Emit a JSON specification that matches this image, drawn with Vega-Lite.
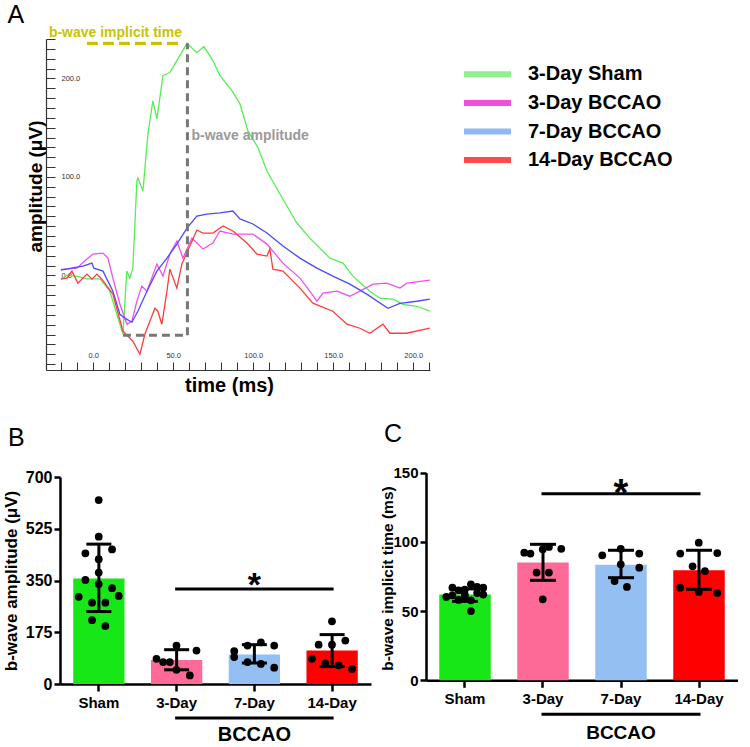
{
  "$schema": "https://vega.github.io/schema/vega-lite/v6.json",
  "background": "white",
  "padding": {"left": 1, "top": 2, "right": 0, "bottom": 0},
  "config": {
    "view": {"stroke": null},
    "font": "Liberation Sans",
    "axis": {"grid": false},
    "title": {"font": "Liberation Sans"}
  },
  "resolve": {"scale": {"color": "independent"}},
  "datasets": {
    "traces": [
      {"series": "3-Day Sham", "t": -20.2, "v": -3.8}, {"series": "3-Day Sham", "t": -16.4, "v": 0.3}, {"series": "3-Day Sham", "t": -10, "v": -1}, {"series": "3-Day Sham", "t": -3.9, "v": -3.5}, {"series": "3-Day Sham", "t": 4.2, "v": -3.5}, {"series": "3-Day Sham", "t": 10.4, "v": -16}, {"series": "3-Day Sham", "t": 14.8, "v": -39.4}, {"series": "3-Day Sham", "t": 18.6, "v": -59.7}, {"series": "3-Day Sham", "t": 21, "v": 4.4}, {"series": "3-Day Sham", "t": 22.9, "v": -2.7}, {"series": "3-Day Sham", "t": 24.8, "v": 7.4}, {"series": "3-Day Sham", "t": 27.3, "v": 95.9}, {"series": "3-Day Sham", "t": 27.9, "v": 99}, {"series": "3-Day Sham", "t": 31.1, "v": 85.8}, {"series": "3-Day Sham", "t": 34.2, "v": 143.7}, {"series": "3-Day Sham", "t": 37.3, "v": 177.3}, {"series": "3-Day Sham", "t": 39.8, "v": 158.9}, {"series": "3-Day Sham", "t": 43.6, "v": 202.8}, {"series": "3-Day Sham", "t": 47.9, "v": 205.9}, {"series": "3-Day Sham", "t": 52.3, "v": 218.1}, {"series": "3-Day Sham", "t": 58.6, "v": 235.6}, {"series": "3-Day Sham", "t": 64.8, "v": 226.1}, {"series": "3-Day Sham", "t": 69.2, "v": 232.3}, {"series": "3-Day Sham", "t": 74.8, "v": 218.1}, {"series": "3-Day Sham", "t": 79.2, "v": 202.8}, {"series": "3-Day Sham", "t": 86.7, "v": 187.5}, {"series": "3-Day Sham", "t": 91.7, "v": 174.2}, {"series": "3-Day Sham", "t": 96.7, "v": 146.7}, {"series": "3-Day Sham", "t": 103.1, "v": 129.4}, {"series": "3-Day Sham", "t": 108.6, "v": 106}, {"series": "3-Day Sham", "t": 116.7, "v": 82.7}, {"series": "3-Day Sham", "t": 122.9, "v": 65.4}, {"series": "3-Day Sham", "t": 127.3, "v": 53.2}, {"series": "3-Day Sham", "t": 135.4, "v": 37.9}, {"series": "3-Day Sham", "t": 147.9, "v": 17.6}, {"series": "3-Day Sham", "t": 156.1, "v": 12.5}, {"series": "3-Day Sham", "t": 162.3, "v": -0.7}, {"series": "3-Day Sham", "t": 172.9, "v": -16}, {"series": "3-Day Sham", "t": 179.2, "v": -23.1}, {"series": "3-Day Sham", "t": 187.3, "v": -24.1}, {"series": "3-Day Sham", "t": 193.6, "v": -29.3}, {"series": "3-Day Sham", "t": 202.3, "v": -31.3}, {"series": "3-Day Sham", "t": 210.4, "v": -36.3},
      {"series": "3-Day BCCAO", "t": -20.2, "v": 6.1}, {"series": "3-Day BCCAO", "t": -10.2, "v": 7.4}, {"series": "3-Day BCCAO", "t": -3.9, "v": 16.6}, {"series": "3-Day BCCAO", "t": -0.2, "v": 21.7}, {"series": "3-Day BCCAO", "t": 6.1, "v": 22.7}, {"series": "3-Day BCCAO", "t": 9.2, "v": 17.6}, {"series": "3-Day BCCAO", "t": 12.3, "v": -2.7}, {"series": "3-Day BCCAO", "t": 16.7, "v": -29.2}, {"series": "3-Day BCCAO", "t": 21.1, "v": -49.5}, {"series": "3-Day BCCAO", "t": 24.2, "v": -46.5}, {"series": "3-Day BCCAO", "t": 27.3, "v": -26.1}, {"series": "3-Day BCCAO", "t": 30.4, "v": -10.9}, {"series": "3-Day BCCAO", "t": 33.6, "v": -16}, {"series": "3-Day BCCAO", "t": 39.8, "v": 11.5}, {"series": "3-Day BCCAO", "t": 43.6, "v": -0.7}, {"series": "3-Day BCCAO", "t": 47.9, "v": 21.7}, {"series": "3-Day BCCAO", "t": 52.3, "v": 34.9}, {"series": "3-Day BCCAO", "t": 56.1, "v": 17.6}, {"series": "3-Day BCCAO", "t": 61.7, "v": 37.9}, {"series": "3-Day BCCAO", "t": 68.6, "v": 26.8}, {"series": "3-Day BCCAO", "t": 74.8, "v": 32.9}, {"series": "3-Day BCCAO", "t": 79.2, "v": 45.1}, {"series": "3-Day BCCAO", "t": 87.3, "v": 42}, {"series": "3-Day BCCAO", "t": 99.8, "v": 42}, {"series": "3-Day BCCAO", "t": 108.6, "v": 31.8}, {"series": "3-Day BCCAO", "t": 118.6, "v": 12.5}, {"series": "3-Day BCCAO", "t": 129.2, "v": -2.7}, {"series": "3-Day BCCAO", "t": 135.4, "v": -16}, {"series": "3-Day BCCAO", "t": 139.8, "v": -26.1}, {"series": "3-Day BCCAO", "t": 143.6, "v": -18}, {"series": "3-Day BCCAO", "t": 152.3, "v": -16}, {"series": "3-Day BCCAO", "t": 160.4, "v": -21.1}, {"series": "3-Day BCCAO", "t": 166.7, "v": -16}, {"series": "3-Day BCCAO", "t": 174.8, "v": -8.8}, {"series": "3-Day BCCAO", "t": 183.6, "v": -7.8}, {"series": "3-Day BCCAO", "t": 191.7, "v": -12.9}, {"series": "3-Day BCCAO", "t": 196.1, "v": -7.8}, {"series": "3-Day BCCAO", "t": 210.4, "v": -4.8},
      {"series": "7-Day BCCAO", "t": -20.2, "v": 5.4}, {"series": "7-Day BCCAO", "t": -12.6, "v": 7.6}, {"series": "7-Day BCCAO", "t": -6.4, "v": 9.5}, {"series": "7-Day BCCAO", "t": -0.8, "v": 12.5}, {"series": "7-Day BCCAO", "t": 0.4, "v": 7.4}, {"series": "7-Day BCCAO", "t": 6.1, "v": 4.4}, {"series": "7-Day BCCAO", "t": 12.3, "v": -16}, {"series": "7-Day BCCAO", "t": 16.7, "v": -39.4}, {"series": "7-Day BCCAO", "t": 19.8, "v": -43.4}, {"series": "7-Day BCCAO", "t": 24.2, "v": -47.5}, {"series": "7-Day BCCAO", "t": 27.9, "v": -36.3}, {"series": "7-Day BCCAO", "t": 33.6, "v": -16}, {"series": "7-Day BCCAO", "t": 39.8, "v": 4.4}, {"series": "7-Day BCCAO", "t": 46.1, "v": 17.6}, {"series": "7-Day BCCAO", "t": 52.3, "v": 31.8}, {"series": "7-Day BCCAO", "t": 58.6, "v": 48.1}, {"series": "7-Day BCCAO", "t": 64.8, "v": 60.3}, {"series": "7-Day BCCAO", "t": 71.1, "v": 62.3}, {"series": "7-Day BCCAO", "t": 79.2, "v": 63.4}, {"series": "7-Day BCCAO", "t": 87.3, "v": 65.4}, {"series": "7-Day BCCAO", "t": 91.7, "v": 57.3}, {"series": "7-Day BCCAO", "t": 99.8, "v": 52.2}, {"series": "7-Day BCCAO", "t": 108.6, "v": 43.1}, {"series": "7-Day BCCAO", "t": 118.6, "v": 29.8}, {"series": "7-Day BCCAO", "t": 129.2, "v": 17.6}, {"series": "7-Day BCCAO", "t": 139.8, "v": 7.4}, {"series": "7-Day BCCAO", "t": 149.8, "v": -0.7}, {"series": "7-Day BCCAO", "t": 160.4, "v": -8.8}, {"series": "7-Day BCCAO", "t": 171, "v": -19}, {"series": "7-Day BCCAO", "t": 184.2, "v": -33.3}, {"series": "7-Day BCCAO", "t": 191.7, "v": -28.3}, {"series": "7-Day BCCAO", "t": 202.3, "v": -26.2}, {"series": "7-Day BCCAO", "t": 210.4, "v": -24.1},
      {"series": "14-Day BCCAO", "t": -20.2, "v": -3.8}, {"series": "14-Day BCCAO", "t": -16.4, "v": -2.7}, {"series": "14-Day BCCAO", "t": -13.3, "v": 4.4}, {"series": "14-Day BCCAO", "t": -9.6, "v": -7.8}, {"series": "14-Day BCCAO", "t": -3.9, "v": 1.3}, {"series": "14-Day BCCAO", "t": -0.8, "v": -3.8}, {"series": "14-Day BCCAO", "t": 2.3, "v": 1.3}, {"series": "14-Day BCCAO", "t": 5.4, "v": -3.8}, {"series": "14-Day BCCAO", "t": 12.3, "v": -19}, {"series": "14-Day BCCAO", "t": 18.6, "v": -56.7}, {"series": "14-Day BCCAO", "t": 24.8, "v": -66.8}, {"series": "14-Day BCCAO", "t": 29.2, "v": -80}, {"series": "14-Day BCCAO", "t": 32.3, "v": -59.7}, {"series": "14-Day BCCAO", "t": 35.4, "v": -46.5}, {"series": "14-Day BCCAO", "t": 38.6, "v": -33.3}, {"series": "14-Day BCCAO", "t": 40.4, "v": -36.3}, {"series": "14-Day BCCAO", "t": 42.9, "v": -49.5}, {"series": "14-Day BCCAO", "t": 46.1, "v": -16}, {"series": "14-Day BCCAO", "t": 47.9, "v": 6.4}, {"series": "14-Day BCCAO", "t": 52.3, "v": -12.9}, {"series": "14-Day BCCAO", "t": 55.4, "v": 11.5}, {"series": "14-Day BCCAO", "t": 60.4, "v": 29.8}, {"series": "14-Day BCCAO", "t": 64.8, "v": 46.1}, {"series": "14-Day BCCAO", "t": 68.6, "v": 43}, {"series": "14-Day BCCAO", "t": 74.8, "v": 43}, {"series": "14-Day BCCAO", "t": 81.1, "v": 50.2}, {"series": "14-Day BCCAO", "t": 87.3, "v": 45.1}, {"series": "14-Day BCCAO", "t": 96.1, "v": 32.9}, {"series": "14-Day BCCAO", "t": 102.3, "v": 21.7}, {"series": "14-Day BCCAO", "t": 108.6, "v": 19.6}, {"series": "14-Day BCCAO", "t": 110.4, "v": 26.8}, {"series": "14-Day BCCAO", "t": 112.3, "v": 6.4}, {"series": "14-Day BCCAO", "t": 118.6, "v": 4.4}, {"series": "14-Day BCCAO", "t": 129.2, "v": -12.9}, {"series": "14-Day BCCAO", "t": 137.3, "v": -28.2}, {"series": "14-Day BCCAO", "t": 149.8, "v": -36.3}, {"series": "14-Day BCCAO", "t": 158.6, "v": -49.5}, {"series": "14-Day BCCAO", "t": 166.7, "v": -53.6}, {"series": "14-Day BCCAO", "t": 172.9, "v": -58.7}, {"series": "14-Day BCCAO", "t": 181.1, "v": -49.5}, {"series": "14-Day BCCAO", "t": 185.4, "v": -58.7}, {"series": "14-Day BCCAO", "t": 195.9, "v": -58.7}, {"series": "14-Day BCCAO", "t": 210.4, "v": -53.6}
    ],
    "ampSummary": [
      {"group": "Sham", "mean": 357, "lo": 245, "hi": 473},
      {"group": "3-Day", "mean": 81, "lo": 48, "hi": 116},
      {"group": "7-Day", "mean": 100, "lo": 71, "hi": 133},
      {"group": "14-Day", "mean": 113, "lo": 59, "hi": 167}
    ],
    "ampPoints": [
      {"group": "Sham", "slot": 0, "value": 622}, {"group": "Sham", "slot": 0, "value": 498}, {"group": "Sham", "slot": -2, "value": 442}, {"group": "Sham", "slot": 2, "value": 455}, {"group": "Sham", "slot": 0, "value": 422}, {"group": "Sham", "slot": 0, "value": 377}, {"group": "Sham", "slot": -2, "value": 352}, {"group": "Sham", "slot": 0, "value": 338}, {"group": "Sham", "slot": 2, "value": 324}, {"group": "Sham", "slot": -3, "value": 295}, {"group": "Sham", "slot": 3, "value": 298}, {"group": "Sham", "slot": -1, "value": 275}, {"group": "Sham", "slot": 1, "value": 275}, {"group": "Sham", "slot": -1, "value": 216}, {"group": "Sham", "slot": 1, "value": 196},
      {"group": "3-Day", "slot": 0, "value": 130}, {"group": "3-Day", "slot": 3, "value": 113}, {"group": "3-Day", "slot": -3, "value": 85}, {"group": "3-Day", "slot": -2, "value": 74}, {"group": "3-Day", "slot": -1, "value": 74}, {"group": "3-Day", "slot": 0, "value": 48}, {"group": "3-Day", "slot": 2, "value": 29},
      {"group": "7-Day", "slot": -1, "value": 130}, {"group": "7-Day", "slot": 1, "value": 141}, {"group": "7-Day", "slot": 3, "value": 130}, {"group": "7-Day", "slot": -3, "value": 111}, {"group": "7-Day", "slot": -3, "value": 91}, {"group": "7-Day", "slot": -1, "value": 74}, {"group": "7-Day", "slot": 1, "value": 68}, {"group": "7-Day", "slot": 3, "value": 55},
      {"group": "14-Day", "slot": 0, "value": 212}, {"group": "14-Day", "slot": -2, "value": 133}, {"group": "14-Day", "slot": 0, "value": 133}, {"group": "14-Day", "slot": 2, "value": 147}, {"group": "14-Day", "slot": -3, "value": 85}, {"group": "14-Day", "slot": -1, "value": 70}, {"group": "14-Day", "slot": 1, "value": 63}, {"group": "14-Day", "slot": 3, "value": 51}
    ],
    "timeSummary": [
      {"group": "Sham", "mean": 61.9, "lo": 57, "hi": 66},
      {"group": "3-Day", "mean": 85, "lo": 72.2, "hi": 98.2},
      {"group": "7-Day", "mean": 83.5, "lo": 74.1, "hi": 93.9},
      {"group": "14-Day", "mean": 79.4, "lo": 65.7, "hi": 93.9}
    ],
    "timePoints": [
      {"group": "Sham", "slot": -3, "value": 60.2}, {"group": "Sham", "slot": -2, "value": 66.9}, {"group": "Sham", "slot": -1, "value": 65}, {"group": "Sham", "slot": 0, "value": 65.5}, {"group": "Sham", "slot": 1, "value": 69.3}, {"group": "Sham", "slot": 2, "value": 67.4}, {"group": "Sham", "slot": 3, "value": 66.9}, {"group": "Sham", "slot": 3, "value": 61.9}, {"group": "Sham", "slot": 0, "value": 62}, {"group": "Sham", "slot": 0, "value": 60}, {"group": "Sham", "slot": -2, "value": 61.4}, {"group": "Sham", "slot": 1, "value": 57.8}, {"group": "Sham", "slot": 1, "value": 50}, {"group": "Sham", "slot": 2, "value": 63}, {"group": "Sham", "slot": -1, "value": 58},
      {"group": "3-Day", "slot": -3, "value": 92.2}, {"group": "3-Day", "slot": -2, "value": 91.5}, {"group": "3-Day", "slot": 0, "value": 94.6}, {"group": "3-Day", "slot": 1, "value": 96.3}, {"group": "3-Day", "slot": 3, "value": 95}, {"group": "3-Day", "slot": -1, "value": 77.8}, {"group": "3-Day", "slot": 1, "value": 77.8}, {"group": "3-Day", "slot": 0, "value": 58.5},
      {"group": "7-Day", "slot": -3, "value": 90.3}, {"group": "7-Day", "slot": 0, "value": 95}, {"group": "7-Day", "slot": 3, "value": 91.5}, {"group": "7-Day", "slot": 0, "value": 83.8}, {"group": "7-Day", "slot": 3, "value": 81.3}, {"group": "7-Day", "slot": -1, "value": 71.7}, {"group": "7-Day", "slot": 1, "value": 67.4},
      {"group": "14-Day", "slot": 0, "value": 99.4}, {"group": "14-Day", "slot": -3, "value": 91.5}, {"group": "14-Day", "slot": 3, "value": 91.9}, {"group": "14-Day", "slot": -1, "value": 82.3}, {"group": "14-Day", "slot": 1, "value": 78.9}, {"group": "14-Day", "slot": -3, "value": 66.9}, {"group": "14-Day", "slot": 0, "value": 63.8}, {"group": "14-Day", "slot": 3, "value": 63.1}
    ]
  },
  "columns": 1,
  "spacing": 27,
  "concat": [
    {
      "width": 370,
      "height": 331,
      "title": {"text": "A", "anchor": "start", "frame": "group", "dx": -52.5, "fontSize": 25, "fontWeight": "normal", "color": "black", "baseline": "alphabetic", "offset": -22},
      "resolve": {"axis": {"x": "independent", "y": "independent"}},
      "layer": [
        {
          "data": {"name": "traces"},
          "mark": {"type": "line", "strokeWidth": 1.3},
          "encoding": {
            "x": {"field": "t", "type": "quantitative", "scale": {"domain": [-29.5, 210.5], "range": [-14, 370], "nice": false, "zero": false},
              "axis": {"title": "time (ms)", "values": [-20,-10,0,10,20,30,40,50,60,70,80,90,100,110,120,130,140,150,160,170,180,190,200,210], "labels": false, "tickSize": -8, "tickColor": "#333", "tickWidth": 1, "domainColor": "#333", "domainWidth": 1.2, "titleFontSize": 20, "titleFontWeight": "bold", "titleColor": "black", "titleX": 169, "titleY": 21, "titleBaseline": "alphabetic"}},
            "y": {"field": "v", "type": "quantitative", "scale": {"domain": [-96, 240], "nice": false, "zero": false},
              "axis": {"title": "amplitude (μV)", "offset": 14, "values": [-90,-80,-70,-60,-50,-40,-30,-20,-10,0,10,20,30,40,50,60,70,80,90,100,110,120,130,140,150,160,170,180,190,200,210,220,230,240], "labels": false, "tickSize": -9, "tickColor": "#333", "tickWidth": 1, "domainColor": "#333", "domainWidth": 1.2, "titleFontSize": 19, "titleFontWeight": "bold", "titleColor": "black", "titleX": -5, "titleY": 147, "titleBaseline": "alphabetic"}},
            "stroke": {"field": "series", "type": "nominal", "scale": {"domain": ["3-Day Sham", "3-Day BCCAO", "7-Day BCCAO", "14-Day BCCAO"], "range": ["#55ee55", "#f24ef2", "#4a4aff", "#ff3b3b"]}, "legend": null}
          }
        },
        {
          "data": {"values": [{"t1": -3.9, "t2": 56, "v": 235.6}]},
          "mark": {"type": "rule", "color": "#c8c400", "strokeWidth": 3.3, "strokeDash": [11, 5]},
          "encoding": {
            "x": {"field": "t1", "type": "quantitative", "axis": {"orient": "bottom", "title": null, "values": [0, 50, 100, 150, 200], "format": ".1f", "ticks": false, "tickSize": 0, "domain": false, "labelPadding": -15, "labelBaseline": "middle", "labelFontSize": 7.5, "labelColor": "#333", "labelFlush": false, "labelOverlap": false}},
            "x2": {"field": "t2"},
            "y": {"field": "v", "type": "quantitative", "axis": {"orient": "left", "offset": 14, "title": null, "values": [0, 100, 200], "format": ".1f", "ticks": false, "tickSize": 0, "domain": false, "labelPadding": -15, "labelAlign": "left", "labelBaseline": "middle", "labelFontSize": 7.5, "labelColor": "#333", "labelFlush": false, "labelOverlap": false}}
          }
        },
        {
          "data": {"values": [{"t1": 18.6, "t2": 58.9, "v": -60.7}]},
          "mark": {"type": "rule", "color": "#777777", "strokeWidth": 3, "strokeDash": [8, 5]},
          "encoding": {
            "x": {"field": "t1", "type": "quantitative", "axis": null},
            "x2": {"field": "t2"},
            "y": {"field": "v", "type": "quantitative", "axis": null}
          }
        },
        {
          "data": {"values": [{"t": 58.9, "v1": -60.7, "v2": 235.6}]},
          "mark": {"type": "rule", "color": "#777777", "strokeWidth": 3, "strokeDash": [8, 5]},
          "encoding": {
            "x": {"field": "t", "type": "quantitative", "axis": null},
            "y": {"field": "v1", "type": "quantitative", "axis": null},
            "y2": {"field": "v2"}
          }
        },
        {
          "data": {"values": [{"label": "b-wave implicit time", "t": -27.7, "v": 242.4}]},
          "mark": {"type": "text", "align": "left", "baseline": "alphabetic", "fontSize": 14, "fontWeight": "bold", "color": "#c8c400"},
          "encoding": {
            "x": {"field": "t", "type": "quantitative", "axis": null},
            "y": {"field": "v", "type": "quantitative", "axis": null},
            "text": {"field": "label"}
          }
        },
        {
          "data": {"values": [{"label": "b-wave amplitude", "t": 61.4, "v": 137.3}]},
          "mark": {"type": "text", "align": "left", "baseline": "alphabetic", "fontSize": 14, "fontWeight": "bold", "color": "#9a9a9a"},
          "encoding": {
            "x": {"field": "t", "type": "quantitative", "axis": null},
            "y": {"field": "v", "type": "quantitative", "axis": null},
            "text": {"field": "label"}
          }
        },
        {
          "data": {"name": "traces"},
          "transform": [{"filter": "false"}],
          "mark": {"type": "line", "strokeWidth": 6},
          "encoding": {
            "x": {"field": "t", "type": "quantitative", "axis": null},
            "y": {"field": "v", "type": "quantitative", "axis": null},
            "color": {"field": "series", "type": "nominal",
              "scale": {"domain": ["3-Day Sham", "3-Day BCCAO", "7-Day BCCAO", "14-Day BCCAO"], "range": ["#8ef08e", "#f04fdc", "#8fb9f0", "#ff4a4a"]},
              "legend": {"orient": "none", "legendX": 417.5, "legendY": 25.3, "title": null, "symbolType": "M-4.7,0H4.7", "symbolSize": 100, "symbolStrokeWidth": 6, "labelFontSize": 20, "labelFontWeight": "bold", "labelFont": "Liberation Sans", "labelColor": "black", "labelOffset": 30.5, "rowPadding": 4.6, "padding": 0, "labelLimit": 300}}
          }
        }
      ]
    },
    {
      "spacing": 8,
      "hconcat": [
        {
          "width": 311,
          "height": 207,
          "title": {"text": "B", "anchor": "start", "frame": "group", "dx": -52, "fontSize": 25, "fontWeight": "normal", "color": "black", "baseline": "alphabetic", "offset": -2.3},
          "resolve": {"scale": {"xOffset": "independent"}},
          "layer": [
            {
              "data": {"name": "ampSummary"},
              "mark": {"type": "bar"},
              "encoding": {
                "x": {"field": "group", "type": "nominal", "scale": {"domain": ["Sham", "3-Day", "7-Day", "14-Day"], "paddingInner": 0.34, "paddingOuter": 0.17},
                  "axis": {"title": null, "labelAngle": 0, "labelFontSize": 15, "labelFontWeight": "bold", "labelColor": "black", "labelPadding": 4, "tickSize": 7, "tickWidth": 2.5, "tickColor": "black", "domainWidth": 2.5, "domainColor": "black"}},
                "y": {"field": "mean", "type": "quantitative", "scale": {"domain": [0, 700], "nice": false},
                  "axis": {"title": "b-wave amplitude (μV)", "values": [0, 175, 350, 525, 700], "labelFontSize": 16, "labelFontWeight": "bold", "labelColor": "black", "labelPadding": 2, "tickSize": 6, "tickWidth": 2.5, "tickColor": "black", "domainWidth": 2.5, "domainColor": "black", "titleFontSize": 17, "titleFontWeight": "bold", "titleColor": "black", "titleX": -44, "titleY": 103.5, "titleBaseline": "alphabetic"}},
                "color": {"field": "group", "type": "nominal", "scale": {"domain": ["Sham", "3-Day", "7-Day", "14-Day"], "range": ["#17e617", "#fd6a97", "#94bff2", "#fe0000"]}, "legend": null}
              }
            },
            {
              "data": {"name": "ampPoints"},
              "mark": {"type": "circle", "size": 60, "color": "black", "opacity": 1},
              "encoding": {
                "x": {"field": "group", "type": "nominal"},
                "xOffset": {"field": "slot", "type": "nominal", "scale": {"type": "point", "domain": [-3, -2, -1, 0, 1, 2, 3], "range": [5.5, 45.5], "padding": 0}},
                "y": {"field": "value", "type": "quantitative"}
              }
            },
            {
              "data": {"name": "ampSummary"},
              "mark": {"type": "rule", "color": "black", "strokeWidth": 3},
              "encoding": {
                "x": {"field": "group", "type": "nominal"},
                "y": {"field": "lo", "type": "quantitative"},
                "y2": {"field": "hi"}
              }
            },
            {
              "data": {"name": "ampSummary"},
              "mark": {"type": "tick", "color": "black", "thickness": 3, "size": 25, "opacity": 1},
              "encoding": {
                "x": {"field": "group", "type": "nominal"},
                "y": {"field": "lo", "type": "quantitative"}
              }
            },
            {
              "data": {"name": "ampSummary"},
              "mark": {"type": "tick", "color": "black", "thickness": 3, "size": 25, "opacity": 1},
              "encoding": {
                "x": {"field": "group", "type": "nominal"},
                "y": {"field": "hi", "type": "quantitative"}
              }
            },
            {
              "data": {"values": [{"from": "3-Day", "to": "14-Day", "level": 321}, {"from": "3-Day", "to": "14-Day", "level": -115}]},
              "mark": {"type": "rule", "color": "black", "strokeWidth": 3, "strokeCap": "square"},
              "encoding": {
                "x": {"field": "from", "type": "nominal"},
                "x2": {"field": "to"},
                "y": {"field": "level", "type": "quantitative"}
              }
            },
            {
              "data": {"values": [{"at": "7-Day", "level": 298.6, "label": "*"}]},
              "mark": {"type": "text", "fontSize": 34, "fontWeight": "bold", "color": "black", "align": "center", "baseline": "alphabetic"},
              "encoding": {
                "x": {"field": "at", "type": "nominal"},
                "y": {"field": "level", "type": "quantitative"},
                "text": {"field": "label"}
              }
            },
            {
              "data": {"values": [{"at": "7-Day", "level": -193.4, "label": "BCCAO"}]},
              "mark": {"type": "text", "fontSize": 20, "fontWeight": "bold", "color": "black", "align": "center", "baseline": "alphabetic"},
              "encoding": {
                "x": {"field": "at", "type": "nominal"},
                "y": {"field": "level", "type": "quantitative"},
                "text": {"field": "label"}
              }
            }
          ]
        },
        {
          "width": 312,
          "height": 207,
          "title": {"text": "C", "anchor": "start", "frame": "group", "dx": -42, "fontSize": 25, "fontWeight": "normal", "color": "black", "baseline": "alphabetic", "offset": -1.7},
          "resolve": {"scale": {"xOffset": "independent"}},
          "layer": [
            {
              "data": {"name": "timeSummary"},
              "mark": {"type": "bar"},
              "encoding": {
                "x": {"field": "group", "type": "nominal", "scale": {"domain": ["Sham", "3-Day", "7-Day", "14-Day"], "paddingInner": 0.34, "paddingOuter": 0.17},
                  "axis": {"title": null, "offset": -3.7, "labelAngle": 0, "labelFontSize": 15, "labelFontWeight": "bold", "labelColor": "black", "labelPadding": 4, "tickSize": 7, "tickWidth": 2.5, "tickColor": "black", "domainWidth": 2.5, "domainColor": "black"}},
                "y": {"field": "mean", "type": "quantitative", "scale": {"domain": [0, 150], "range": [203.3, -4.4], "nice": false},
                  "axis": {"title": "b-wave implicit time (ms)", "values": [0, 50, 100, 150], "labelFontSize": 15, "labelFontWeight": "bold", "labelColor": "black", "labelPadding": 2, "tickSize": 6, "tickWidth": 2.5, "tickColor": "black", "domainWidth": 2.5, "domainColor": "black", "titleFontSize": 15.5, "titleFontWeight": "bold", "titleColor": "black", "titleX": -34, "titleY": 101, "titleBaseline": "alphabetic"}},
                "color": {"field": "group", "type": "nominal", "scale": {"domain": ["Sham", "3-Day", "7-Day", "14-Day"], "range": ["#17e617", "#fd6a97", "#94bff2", "#fe0000"]}, "legend": null}
              }
            },
            {
              "data": {"name": "timePoints"},
              "mark": {"type": "circle", "size": 60, "color": "black", "opacity": 1},
              "encoding": {
                "x": {"field": "group", "type": "nominal"},
                "xOffset": {"field": "slot", "type": "nominal", "scale": {"type": "point", "domain": [-3, -2, -1, 0, 1, 2, 3], "range": [7, 44], "padding": 0}},
                "y": {"field": "value", "type": "quantitative"}
              }
            },
            {
              "data": {"name": "timeSummary"},
              "mark": {"type": "rule", "color": "black", "strokeWidth": 3},
              "encoding": {
                "x": {"field": "group", "type": "nominal"},
                "y": {"field": "lo", "type": "quantitative"},
                "y2": {"field": "hi"}
              }
            },
            {
              "data": {"name": "timeSummary"},
              "mark": {"type": "tick", "color": "black", "thickness": 3, "size": 26, "opacity": 1},
              "encoding": {
                "x": {"field": "group", "type": "nominal"},
                "y": {"field": "lo", "type": "quantitative"}
              }
            },
            {
              "data": {"name": "timeSummary"},
              "mark": {"type": "tick", "color": "black", "thickness": 3, "size": 26, "opacity": 1},
              "encoding": {
                "x": {"field": "group", "type": "nominal"},
                "y": {"field": "hi", "type": "quantitative"}
              }
            },
            {
              "data": {"values": [{"from": "3-Day", "to": "14-Day", "level": 134.8}, {"from": "3-Day", "to": "14-Day", "level": -24.5}]},
              "mark": {"type": "rule", "color": "black", "strokeWidth": 3, "strokeCap": "square"},
              "encoding": {
                "x": {"field": "from", "type": "nominal"},
                "x2": {"field": "to"},
                "y": {"field": "level", "type": "quantitative"}
              }
            },
            {
              "data": {"values": [{"at": "7-Day", "level": 125.7, "label": "*"}]},
              "mark": {"type": "text", "fontSize": 38, "fontWeight": "bold", "color": "black", "align": "center", "baseline": "alphabetic"},
              "encoding": {
                "x": {"field": "at", "type": "nominal"},
                "y": {"field": "level", "type": "quantitative"},
                "text": {"field": "label"}
              }
            },
            {
              "data": {"values": [{"at": "7-Day", "level": -42.1, "label": "BCCAO"}]},
              "mark": {"type": "text", "fontSize": 19, "fontWeight": "bold", "color": "black", "align": "center", "baseline": "alphabetic"},
              "encoding": {
                "x": {"field": "at", "type": "nominal"},
                "y": {"field": "level", "type": "quantitative"},
                "text": {"field": "label"}
              }
            }
          ]
        }
      ]
    }
  ]
}
